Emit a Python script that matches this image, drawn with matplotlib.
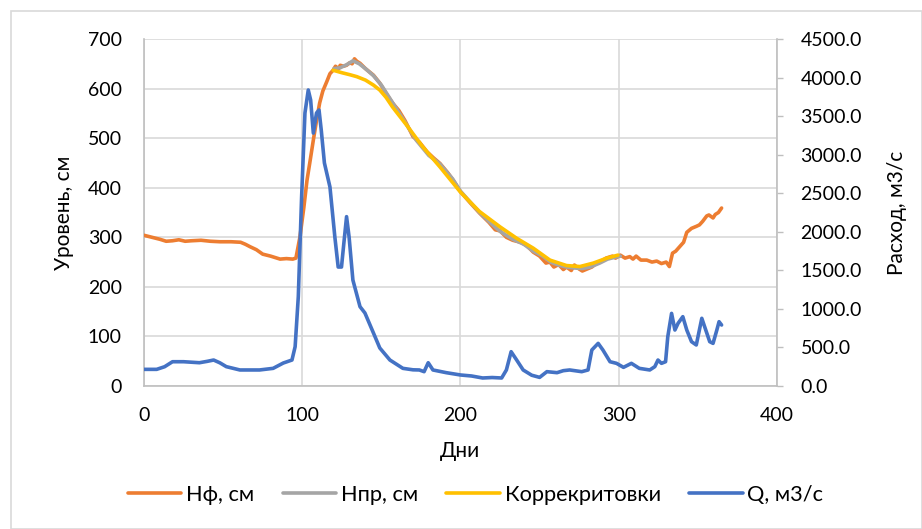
import matplotlib
matplotlib.use("Agg")
import matplotlib.pyplot as plt
from matplotlib.patches import Rectangle
from matplotlib.ticker import FormatStrFormatter, MultipleLocator

plt.rcParams['font.family'] = ['Lato', 'DejaVu Sans']

# Нф, см (observed level)
hf_days = [0, 5, 10, 14, 18, 22, 26, 30, 36, 42, 48, 55, 61, 64, 67, 71, 75, 80, 86, 90, 94, 96,
           98.5, 101, 103, 105, 107, 109, 111, 113, 115.5, 117.5, 119.5, 121, 123, 124, 126, 128,
           130, 131.5, 133, 134.5, 136.5, 140, 145, 149, 153, 157, 161, 165, 170, 174, 179, 183,
           187, 192, 196, 200, 206, 212, 218, 222, 225, 229, 233, 238, 242, 246, 250, 254, 256.5,
           259, 262, 265, 267, 270, 272, 275, 277, 280, 283, 286, 288, 292, 296, 298, 301, 304,
           307, 309, 311, 314, 317.7, 321, 324, 327, 330, 332, 334, 336, 338.5, 341, 343, 346,
           349, 351, 353, 355.6, 357, 359.6, 361, 363, 365]
hf_vals = [304, 300, 296, 292, 293, 295, 292, 293, 294, 292, 291, 291, 290, 286, 281, 275, 266,
           262, 256, 257, 256, 258,
           300, 360, 415, 455, 496, 535, 571, 595, 614, 630, 637, 645, 640, 647, 645, 647,
           652, 650, 660, 655, 651, 640, 627, 611, 590, 571, 556, 535, 503, 492, 472, 460,
           449, 430, 412, 392, 370, 349, 330, 315, 313, 300, 294, 290, 283, 270, 262, 248, 250,
           240, 245, 235, 240, 233, 244, 236, 232, 236, 240, 248, 250, 258, 262, 258, 264, 258,
           261, 256, 262, 254, 254, 250, 252, 247, 250, 241, 268, 272, 281, 290, 310, 318,
           322, 325, 332, 343, 345, 339, 346, 350, 359]

# Нпр, см (forecast level)
hp_days = [120, 124, 128, 132, 136, 140, 145, 150, 157, 165, 172, 180, 187, 195, 200, 212, 220,
           225, 233, 240, 246, 252, 257, 262, 267, 272, 277, 282, 288, 293, 298, 301]
hp_vals = [640, 642, 648, 656, 650, 640, 626, 607, 572, 532, 496, 465, 448, 418, 393, 350, 326,
           312, 296, 286, 272, 262, 250, 244, 240, 238, 237, 240, 248, 256, 260, 262]

# Коррекритовки (corrections)
kr_days = [119.5, 125, 130, 134.5, 140, 145, 149, 153, 157, 166, 176, 187, 200, 212, 225, 235.5,
           246, 256.5, 267, 275.5, 284, 292.5, 299.5]
kr_vals = [637, 632, 628, 624, 617, 607, 597, 582, 563, 526, 483, 442, 391, 352, 321, 298,
           278, 254, 243, 241, 248, 258, 264]

# Q, м3/с (discharge)
q_days = [0, 8, 13, 18, 25, 35, 40, 44, 48, 52, 60.6, 73, 81.6, 88, 93.5, 95.5, 97.5, 99.6, 101.7,
          103.8, 105.3, 107, 109, 110.6, 112, 114, 117.5, 120.6, 122.7, 124.8, 126.3, 128, 129.6,
          132, 136.5, 139.6, 145, 149, 155.4, 163.6, 170, 174, 177, 179.6, 182.6, 191, 200, 207,
          214, 220, 226, 229, 232, 235.5, 239.6, 245, 250, 254.6, 261, 265, 269, 276.6, 280.6,
          283, 287, 290, 294.5, 298.6, 303, 308, 313, 319.6, 322.8, 324.8, 327, 329.6, 331, 333.4,
          335.5, 337.5, 340.5, 343, 346, 349, 352.5, 355, 357.5, 359.6, 362, 363.4, 365]
q_vals = [216, 216, 250, 315, 315, 302, 320, 337, 300, 251, 208, 208, 229, 298, 337, 510, 1158,
          2455, 3540, 3839, 3709, 3280, 3540, 3579, 3320, 2892, 2581, 1932, 1543, 1543, 1854, 2196,
          1932, 1374, 1029, 947, 687, 493, 337, 229, 210, 208, 186, 302, 208, 173, 143, 130, 104,
          110, 104, 208, 445, 337, 208, 140, 112, 186, 173, 199, 208, 186, 208, 467, 553, 467, 315,
          294, 242, 294, 229, 208, 251, 337, 294, 315, 640, 942, 726, 813, 899, 726, 575, 532,
          878, 726, 575, 553, 726, 834, 791]

fig = plt.figure(figsize=(9.22, 5.29), dpi=100)
ax = fig.add_axes([0.1562, 0.2703, 0.6865, 0.656])
ax2 = ax.twinx()

c_or, c_gr, c_ye, c_bl = '#ED7D31', '#A5A5A5', '#FFC000', '#4472C4'
lw = 2.6
l1, = ax.plot(hf_days, hf_vals, color=c_or, lw=lw, label='Нф, см', solid_capstyle='round', zorder=3)
l2, = ax.plot(hp_days, hp_vals, color=c_gr, lw=lw, label='Нпр, см', solid_capstyle='round', zorder=4)
l3, = ax.plot(kr_days, kr_vals, color=c_ye, lw=lw, label='Коррекритовки', solid_capstyle='round', zorder=5)
l4, = ax2.plot(q_days, q_vals, color=c_bl, lw=lw, label='Q, м3/с', solid_capstyle='round')

ax.set_xlim(0, 400)
ax.set_ylim(0, 700)
ax2.set_ylim(0, 4500)
ax.xaxis.set_major_locator(MultipleLocator(100))
ax.yaxis.set_major_locator(MultipleLocator(100))
ax2.yaxis.set_major_locator(MultipleLocator(500))
ax2.yaxis.set_major_formatter(FormatStrFormatter('%.1f'))

ax.grid(True, color='#D9D9D9', lw=1.2)
ax.set_axisbelow(True)
for a in (ax, ax2):
    a.spines['top'].set_visible(False)
    for s in ('left', 'bottom', 'right'):
        a.spines[s].set_color('#BFBFBF')
        a.spines[s].set_linewidth(1.2)
ax.spines['right'].set_visible(False)
ax2.spines['left'].set_visible(False)
ax2.spines['bottom'].set_visible(False)

fs = 14
ax.tick_params(axis='both', length=0, labelsize=fs, colors='black')
ax.tick_params(axis='x', pad=15)
ax.tick_params(axis='y', pad=16)
ax2.tick_params(axis='y', length=4, width=1, color='#BFBFBF', labelsize=fs, pad=13)

ax.set_xlabel('Дни', fontsize=15, labelpad=12)
ax.set_ylabel('Уровень, см', fontsize=15, labelpad=10)
ax2.set_ylabel('Расход, м3/с', fontsize=15, labelpad=18)

fig.legend(handles=[l1, l2, l3, l4], loc='center left', bbox_to_anchor=(128 / 922, 1 - 495 / 529),
           ncol=4, frameon=False, fontsize=15.7, handlelength=2.45, columnspacing=1.3,
           handletextpad=0.22, borderpad=0, borderaxespad=0)

fig.patches.append(Rectangle((11 / 922, 0), (922 - 11) / 922, 1 - 11 / 529, transform=fig.transFigure,
                             fill=False, edgecolor='#D9D9D9', lw=1.2))

fig.savefig('out.png', dpi=100)
